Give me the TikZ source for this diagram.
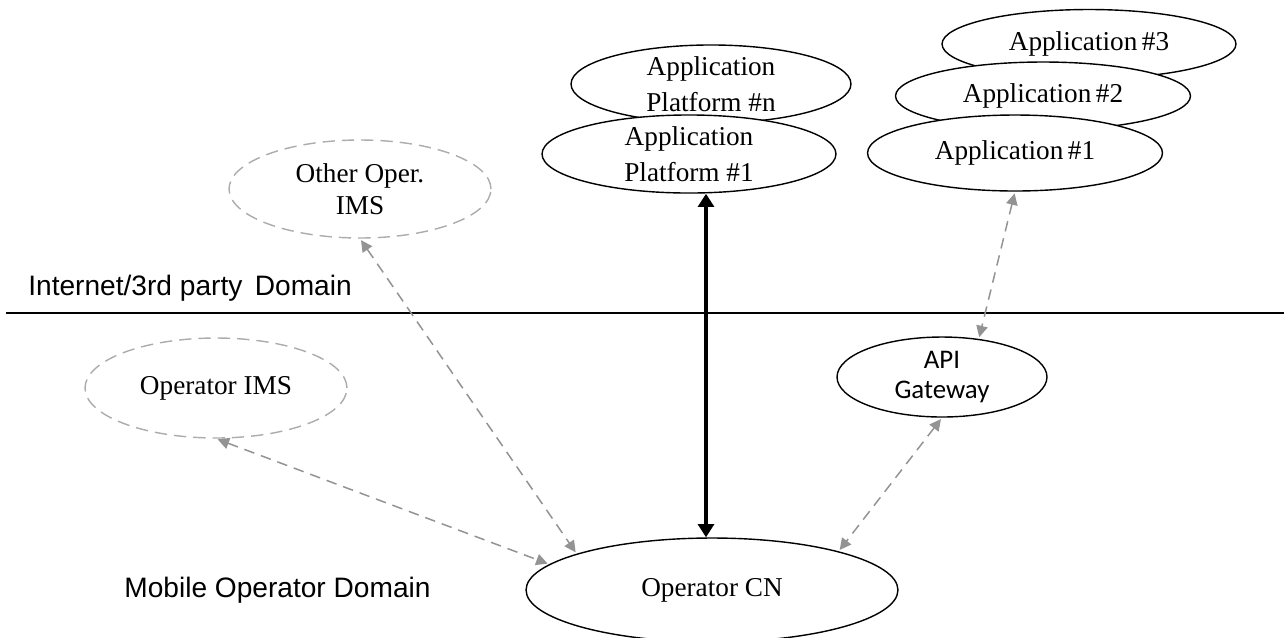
\documentclass[tikz,border=0pt]{standalone}
\usepackage{fontspec}
\setmainfont{Liberation Serif}
\setsansfont{Liberation Sans}
\newfontfamily\calfont{Carlito}
\usepackage{tikz}
\usetikzlibrary{shapes.geometric}
\usetikzlibrary{arrows.meta}

\begin{document}
\begin{tikzpicture}[x=0.02cm, y=-0.02cm,
    box/.style={ellipse, draw, fill=white, line width=0.8pt, inner sep=0pt, align=center,
        font=\fontsize{15.5}{20.5}\selectfont},
    dashbox/.style={box, draw=gray!65, dash pattern=on 7pt off 4pt},
    link/.style={draw=gray!85, line width=0.85pt, dash pattern=on 6pt off 4pt,
        {Triangle[length=6.5pt,width=6.5pt]}-{Triangle[length=6.5pt,width=6.5pt]}, shorten <=1pt, shorten >=1pt},
    biglink/.style={line width=2.3pt, {Triangle[length=7.5pt,width=9pt]}-{Triangle[length=7.5pt,width=9pt]}},
    domainlabel/.style={font=\sffamily\fontsize{16}{19}\selectfont, anchor=west, inner sep=0pt}]
        \useasboundingbox (0,0) rectangle (1284,637);
        % third party side
        \node (app3) at (1089, 44) [box, minimum width=5.88cm, minimum height=1.38cm] {Application\,\#3};
        \node (app2) at (1043, 96) [box, minimum width=5.9cm, minimum height=1.36cm] {Application\,\#2};
        \node (app1) at (1015, 153) [box, minimum width=5.9cm, minimum height=1.52cm] {Application\,\#1};
        \node (platn) at (711, 84) [box, minimum width=5.6cm, minimum height=1.48cm] {Application\\Platform \#n};
        \node (plat1) at (689, 154) [box, minimum width=5.88cm, minimum height=1.52cm] {Application\\Platform \#1};
        \node (othims) at (360, 189) [dashbox, minimum width=5.24cm, minimum height=1.96cm,
            font=\fontsize{15.5}{18.5}\selectfont] {Other Oper.\\IMS};
        % border between the domains
        \draw [line width=0.85pt] (6, 313) -- (1284, 313);
        \node (inet) at (28, 288) [domainlabel] {Internet/3rd party\, Domain};
        \node (mob) at (124, 590) [domainlabel] {Mobile Operator Domain};
        % operator side
        \node (opims) at (216, 388) [dashbox, minimum width=5.24cm, minimum height=2cm] {Operator IMS};
        \node (api) at (942, 377) [box, minimum width=4.2cm, minimum height=1.6cm,
            font=\calfont\fontsize{15.3}{17.5}\selectfont] {API\\Gateway};
        \node (cn) at (712, 590) [box, minimum width=7.44cm, minimum height=2.08cm] {Operator CN};
        % connections
        \draw [biglink] ([xshift=-0.12cm]cn.north) -- ([xshift=-0.12cm]cn.north |- plat1.south);
        \draw [link] (othims.south) -- (cn.165);
        \draw [link] (opims.south) -- (cn.171);
        \draw [link] (api.south) -- (cn.17);
        \draw [link] (app1.south) -- (api.46);
\end{tikzpicture}
\end{document}
